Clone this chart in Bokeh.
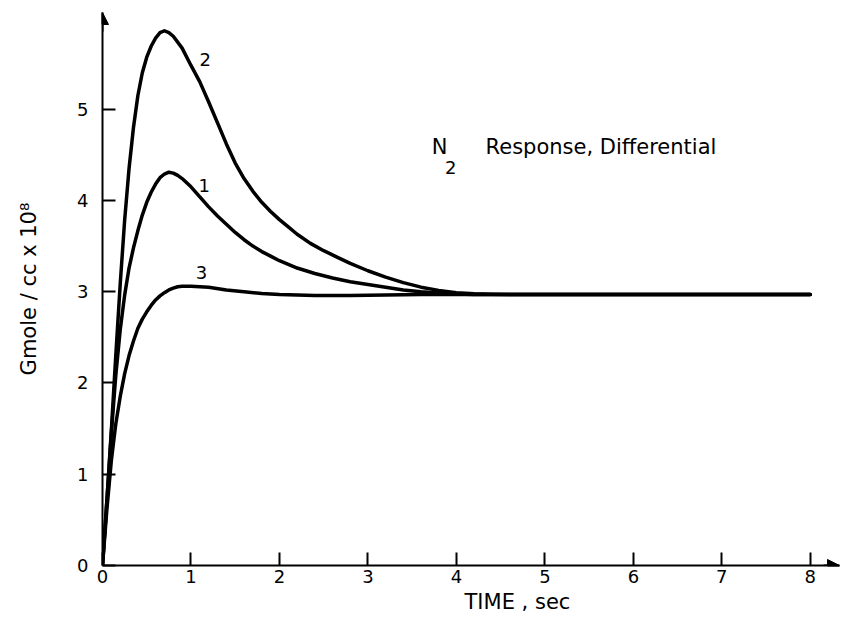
from bokeh.plotting import figure
from bokeh.models import Range1d, FixedTicker, Label, Arrow, NormalHead, Title
from bokeh.embed import file_html
from bokeh.resources import INLINE

# Concentration response curves (time in sec, Gmole/cc x 10^8)
time_1 = [0.00, 0.05, 0.10, 0.15, 0.20, 0.25, 0.30, 0.35, 0.40, 0.45, 0.50, 0.55,
          0.60, 0.65, 0.70, 0.75, 0.80, 0.85, 0.90, 1.00, 1.10, 1.20, 1.30, 1.40,
          1.50, 1.60, 1.70, 1.80, 1.90, 2.00, 2.20, 2.40, 2.60, 2.80, 3.00, 3.20,
          3.40, 3.60, 3.80, 4.00, 4.20, 8.00]
conc_1 = [0.00, 0.72, 1.45, 2.08, 2.58, 2.96, 3.26, 3.48, 3.67, 3.84, 3.98, 4.09,
          4.18, 4.25, 4.29, 4.31, 4.30, 4.275, 4.24, 4.15, 4.04, 3.93, 3.83, 3.74,
          3.65, 3.57, 3.50, 3.44, 3.39, 3.34, 3.26, 3.20, 3.15, 3.11, 3.08, 3.05,
          3.02, 3.00, 2.985, 2.975, 2.97, 2.97]

time_2 = [0.00, 0.05, 0.10, 0.15, 0.20, 0.25, 0.30, 0.35, 0.40, 0.45, 0.50, 0.55,
          0.60, 0.65, 0.70, 0.75, 0.80, 0.90, 1.00, 1.10, 1.20, 1.30, 1.40, 1.50,
          1.60, 1.70, 1.80, 1.90, 2.00, 2.10, 2.20, 2.35, 2.50, 2.65, 2.80, 3.00,
          3.20, 3.40, 3.60, 3.80, 4.00, 4.20, 4.40, 4.60, 8.00]
conc_2 = [0.00, 0.72, 1.48, 2.30, 3.08, 3.78, 4.35, 4.80, 5.15, 5.40, 5.57, 5.69,
          5.78, 5.84, 5.86, 5.84, 5.80, 5.67, 5.48, 5.30, 5.08, 4.85, 4.62, 4.41,
          4.24, 4.10, 3.98, 3.88, 3.79, 3.71, 3.63, 3.53, 3.45, 3.38, 3.31, 3.23,
          3.16, 3.10, 3.05, 3.015, 2.99, 2.978, 2.972, 2.97, 2.97]

time_3 = [0.00, 0.05, 0.10, 0.15, 0.20, 0.25, 0.30, 0.35, 0.40, 0.45, 0.50, 0.55,
          0.60, 0.65, 0.70, 0.75, 0.80, 0.85, 0.90, 1.00, 1.20, 1.40, 1.60, 1.80,
          2.00, 2.40, 2.80, 3.20, 3.60, 8.00]
conc_3 = [0.00, 0.62, 1.15, 1.55, 1.85, 2.10, 2.30, 2.46, 2.60, 2.70, 2.78, 2.85,
          2.91, 2.955, 2.99, 3.02, 3.04, 3.055, 3.06, 3.06, 3.05, 3.02, 3.00, 2.98,
          2.97, 2.96, 2.96, 2.965, 2.97, 2.97]

curve_names = ["1", "2", "3"]
x_ticks = [0, 1, 2, 3, 4, 5, 6, 7, 8]
y_ticks = [0, 1, 2, 3, 4, 5]

FONT = "DejaVu Sans"
INK = "black"

p = figure(width=845, height=628,
           x_range=Range1d(0, 8.33), y_range=Range1d(0, 6.06),
           output_backend="svg", toolbar_location=None,
           min_border_left=102, min_border_right=6,
           min_border_top=12, min_border_bottom=63)
p.xgrid.visible = False
p.ygrid.visible = False
p.outline_line_color = None
p.background_fill_color = "white"
p.border_fill_color = "white"

for ax in (p.xaxis[0], p.yaxis[0]):
    ax.axis_line_width = 2
    ax.axis_line_color = INK
    ax.major_tick_in = 13
    ax.major_tick_out = 0
    ax.major_tick_line_width = 2
    ax.major_tick_line_color = INK
    ax.minor_tick_in = 0
    ax.minor_tick_out = 0
    ax.major_label_text_font = FONT
    ax.major_label_text_font_size = "18px"
    ax.major_label_text_color = INK

p.xaxis.ticker = FixedTicker(ticks=x_ticks)
p.yaxis.ticker = FixedTicker(ticks=y_ticks)
p.xaxis.major_label_standoff = 4
p.yaxis.major_label_standoff = 14

p.yaxis.axis_label = "Gmole / cc x 10\u2078"
p.yaxis.axis_label_text_font = FONT
p.yaxis.axis_label_text_font_size = "21px"
p.yaxis.axis_label_text_font_style = "normal"
p.yaxis.axis_label_text_color = INK
p.yaxis.axis_label_standoff = 33

# x-axis title, set below the tick labels
p.add_layout(Title(text="TIME , sec", align="left", offset=362, standoff=4,
                   text_font=FONT, text_font_size="21px", text_font_style="normal",
                   text_color=INK), "below")

# arrow heads at the ends of both axes
p.add_layout(Arrow(end=NormalHead(size=12, fill_color=INK, line_color=INK),
                   x_start=8.15, y_start=0, x_end=8.33, y_end=0,
                   line_width=2, line_color=INK))
p.add_layout(Arrow(end=NormalHead(size=12, fill_color=INK, line_color=INK),
                   x_start=0, y_start=5.85, x_end=0, y_end=6.06,
                   line_width=2, line_color=INK))

for t, c in ((time_1, conc_1), (time_2, conc_2), (time_3, conc_3)):
    p.line(t, c, line_width=3.5, line_color=INK, line_join="round", line_cap="round")

# curve numbers
for name, (lx, ly) in zip(curve_names, [(1.15, 4.16), (1.16, 5.55), (1.12, 3.21)]):
    p.add_layout(Label(x=lx, y=ly, text=name, text_font=FONT, text_font_size="18px",
                       text_color=INK, text_align="center", text_baseline="middle"))

# annotation
p.add_layout(Label(x=3.72, y=4.59, text="N", text_font=FONT, text_font_size="21px",
                   text_color=INK, text_align="left", text_baseline="middle"))
p.add_layout(Label(x=3.87, y=4.36, text="2", text_font=FONT, text_font_size="18px",
                   text_color=INK, text_align="left", text_baseline="middle"))
p.add_layout(Label(x=4.33, y=4.59, text="Response, Differential", text_font=FONT,
                   text_font_size="21px", text_color=INK, text_align="left",
                   text_baseline="middle"))

open("out.html", "w").write(file_html(p, INLINE))
